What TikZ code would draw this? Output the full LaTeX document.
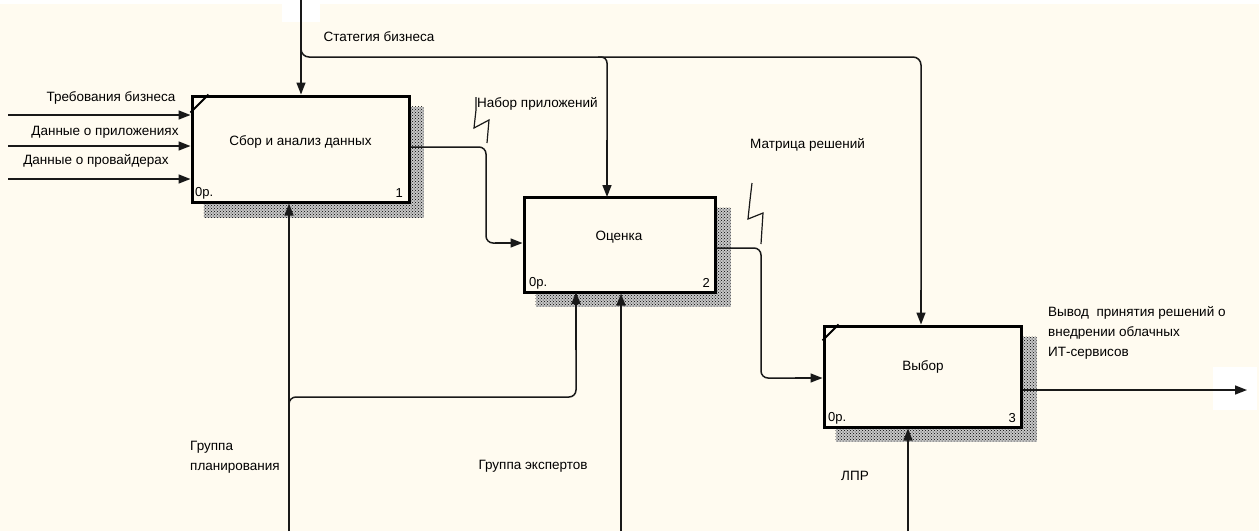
\documentclass[tikz,border=0pt]{standalone}
\usepackage{fontspec}
\setmainfont{Liberation Sans}
\usetikzlibrary{arrows.meta,patterns}
\definecolor{bgc}{RGB}{255,251,240}
\pgfdeclarelayer{back}
\pgfsetlayers{back,main}
\begin{document}
\begin{tikzpicture}[x=1pt,y=-1pt,
  proc/.style={draw=black, line width=3pt, fill=bgc, inner sep=0pt, anchor=center},
  lbl/.style={font=\fontsize{13.5}{20}\selectfont, inner sep=0pt, text=black},
  small/.style={font=\fontsize{13}{14}\selectfont, inner sep=0pt, text=black},
  conn/.style={draw=black!90, line width=1.5pt},
  arr/.style={conn, -{Triangle[length=12pt,width=9pt]}},
  thin/.style={draw=black!90, line width=1.2pt},
  shade/.style={pattern=crosshatch dots, pattern color=black}
]
\useasboundingbox (0,0) rectangle (1259,531);

% boxes
\node[proc, minimum width=217pt, minimum height=106pt] (b1) at (300.5,149) {};
\node[proc, minimum width=191pt, minimum height=95pt] (b2) at (619.5,244.5) {};
\node[proc, minimum width=197pt, minimum height=101pt] (b3) at (922.5,376.5) {};

\begin{pgfonlayer}{back}
  \fill[bgc] (0,0) rectangle (1259,531);
  \fill[white] (0,0) rectangle (1259,4);
  \fill[white] (282,0) rectangle (320,22);
  \fill[white] (1213,367) rectangle (1257,410);
  \fill[black!22] ([shift={(13,12)}]b1.north west) rectangle ([shift={(13,14)}]b1.south east);
  \fill[black!22] ([shift={(13,12)}]b2.north west) rectangle ([shift={(14,13)}]b2.south east);
  \fill[black!22] ([shift={(13,12)}]b3.north west) rectangle ([shift={(14,13)}]b3.south east);
  \fill[shade] ([shift={(13,12)}]b1.north west) rectangle ([shift={(13,14)}]b1.south east);
  \fill[shade] ([shift={(13,12)}]b2.north west) rectangle ([shift={(14,13)}]b2.south east);
  \fill[shade] ([shift={(13,12)}]b3.north west) rectangle ([shift={(14,13)}]b3.south east);
\end{pgfonlayer}

% corner marks
\draw[line width=2pt] ([yshift=-18pt]b1.north west) -- ([xshift=18pt]b1.north west);
\draw[line width=2pt] ([yshift=-16pt]b3.north west) -- ([xshift=16pt]b3.north west);

% box texts
\node[lbl] (t1) at (300.5,142) {Сбор и анализ данных};
\node[lbl] (t2) at (619,237) {Оценка};
\node[lbl] (t3) at (923,367) {Выбор};
\node[small, anchor=west] (n1) at (195,193) {0р.};
\node[small, anchor=east] (k1) at (403,193) {1};
\node[small, anchor=west] (n2) at (529,283) {0р.};
\node[small, anchor=east] (k2) at (710,283) {2};
\node[small, anchor=west] (n3) at (828,418) {0р.};
\node[small, anchor=east] (k3) at (1016,418) {3};

% free ends
\coordinate (i1) at (8,115);
\coordinate (i2) at (8,146);
\coordinate (i3) at (8,179);
\coordinate (ctop) at (301,0);
\coordinate (cj) at (301,40);
\coordinate (cr) at (921,57);
\coordinate (cm) at (598,57);
\coordinate (m1) at (289,531);
\coordinate (mj) at (289,404);
\coordinate (m2) at (621,531);
\coordinate (m3) at (908,531);
\coordinate (out) at (1247,390);

% inputs
\draw[arr] (i1) -- (i1 -| b1.west);
\draw[arr] (i2) -- (i2 -| b1.west);
\draw[arr] (i3) -- (i3 -| b1.west);
\node[lbl] (l1) at (111,98) {Требования бизнеса};
\node[lbl] (l2) at (105,132) {Данные о приложениях};
\node[lbl] (l3) at (96,161) {Данные о провайдерах};

% controls
\draw[arr] (ctop) -- (ctop |- b1.north);
\draw[conn, rounded corners=8pt] (cj) |- (cr) -- (cr |- 0,300);
\draw[arr] (cr |- 0,290) -- (cr |- b3.north);
\draw[conn, rounded corners=6pt] (cm) -| (607,120) -- (607,150);
\draw[arr] (607,140) -- (607,197);
\node[lbl] (lc) at (379,37) {Статегия бизнеса};

% flows between boxes
\draw[conn, rounded corners=7pt] (b1.east |- 0,147) -| (486,243) -- (500,243);
\draw[arr] (495,243) -- (b2.west |- 0,243);
\draw[conn, rounded corners=7pt] (b2.east |- 0,248) -| (761,378) -- (800,378);
\draw[arr] (795,378) -- (b3.west |- 0,378);
\node[lbl, anchor=west] (lf1) at (477,104) {Набор приложений};
\node[lbl, anchor=west] (lf2) at (750,145) {Матрица решений};
\draw[thin] (476,97) -- (476,110) -- (474,128) -- (489,120) -- (487,143);
\draw[thin] (752,183) -- (750,200) -- (748,219) -- (763,213) -- (761,244);

% mechanisms
\draw[arr] (m1) -- (m1 |- b1.south);
\draw[conn, rounded corners=7pt] (mj) |- (576,397) -- (576,340);
\draw[arr] (576,350) -- (576,292);
\draw[arr] (m2) -- (m2 |- b2.south);
\draw[arr] (m3) -- (m3 |- b3.south);
\node[lbl, anchor=west, align=left] (lm1) at (190,457) {Группа\\планирования};
\node[lbl] (lm2) at (533,466) {Группа экспертов};
\node[lbl] (lm3) at (855,476) {ЛПР};

% output
\draw[arr] (b3.east |- out) -- (out);
\node[lbl, anchor=west, align=left] (lo) at (1048,333) {Вывод\ \ принятия решений о\\внедрении облачных\\ИТ-сервисов};
\end{tikzpicture}
\end{document}
